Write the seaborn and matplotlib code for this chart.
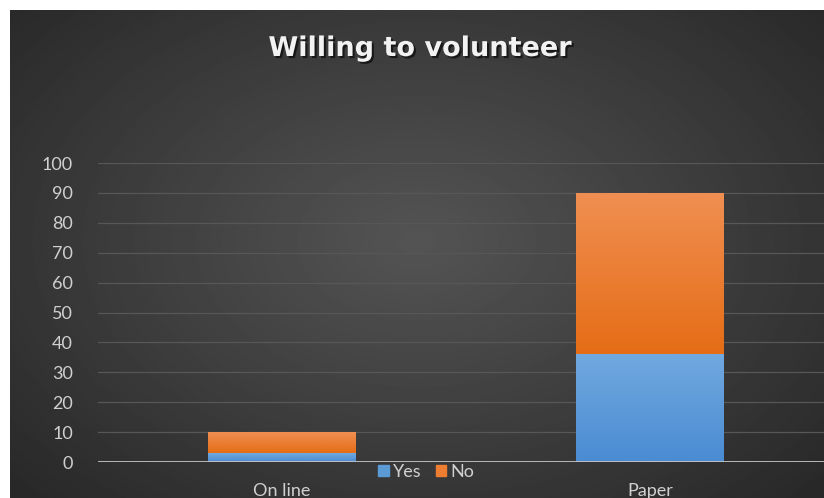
import numpy as np
import pandas as pd
import matplotlib
matplotlib.use('Agg')
import matplotlib.pyplot as plt
import matplotlib.patheffects as pe
from matplotlib.patches import Patch
import seaborn as sns

categories = ['On line', 'Paper']
yes_vals = [3, 36]
no_vals = [7, 54]
y_ticks = list(range(0, 101, 10))

sns.set_theme(style='dark')
plt.rcParams['font.family'] = ['Lato', 'DejaVu Sans']

df = pd.DataFrame({'cat': categories, 'Yes': yes_vals, 'No': no_vals})
df['total'] = df['Yes'] + df['No']

fig = plt.figure(figsize=(8.24, 4.98), dpi=100)
fig.patch.set_facecolor('white')

# dark radial background like the office chart style
bg = fig.add_axes([10 / 824, 0, 814 / 824, 488 / 498])
yy, xx = np.mgrid[-1:1:300j, -1:1:500j]
r = np.sqrt((xx / 1.0) ** 2 + ((yy + 0.05) / 1.1) ** 2)
shade = 0.33 - 0.17 * np.clip(r / 1.35, 0, 1)
bg.imshow(shade, cmap='gray', vmin=0, vmax=1, aspect='auto', extent=(0, 1, 0, 1))
bg.axis('off')

ax = fig.add_axes([98 / 824, (498 - 462) / 498, (824 - 98) / 824, (462 - 163) / 498])
ax.set_facecolor('none')

sns.barplot(data=df, x='cat', y='total', color='#ed7d31', width=0.4,
            saturation=1, ax=ax, zorder=3)
sns.barplot(data=df, x='cat', y='Yes', color='#5b9bd5', width=0.4,
            saturation=1, ax=ax, zorder=3)

# gradient fill on the bars
n = len(categories)
grads = []
for i, p in enumerate(ax.patches[:n]):
    grads.append((p, df['Yes'][i], df['total'][i], '#f08f52', '#e56d16'))
for i, p in enumerate(ax.patches[n:2 * n]):
    grads.append((p, 0, df['Yes'][i], '#71a9e0', '#4a8bd2'))
for p, y0, y1, ctop, cbot in grads:
    x0, w = p.get_x(), p.get_width()
    cm = matplotlib.colors.LinearSegmentedColormap.from_list('g', [cbot, ctop])
    im = ax.imshow(np.linspace(0, 1, 100).reshape(-1, 1), cmap=cm, aspect='auto',
                   origin='lower', extent=(x0, x0 + w, y0, y1), zorder=4)
    im.set_clip_path(p)
    p.set_facecolor('none')
    p.set_edgecolor('none')

ax.set_xlim(-0.5, -0.5 + 726 / 368)
ax.set_ylim(0, 100)
ax.set_yticks(y_ticks)
ax.yaxis.grid(True, color='#575757', lw=0.9)
ax.xaxis.grid(False)
ax.axhline(0, color='#c4c4c4', lw=2, zorder=5)
for s in ax.spines.values():
    s.set_visible(False)
ax.set_xlabel('')
ax.set_ylabel('')
ax.tick_params(axis='y', length=0, pad=18, labelsize=13, labelcolor='#d0d0d0')
ax.tick_params(axis='x', length=0, pad=15, labelsize=13, labelcolor='#d0d0d0')

handles = [Patch(color='#5b9bd5', label='Yes'), Patch(color='#ed7d31', label='No')]
fig.legend(handles=handles, loc='center', bbox_to_anchor=(426 / 824, 1 - 472 / 498),
           ncol=2, frameon=False, fontsize=13, labelcolor='#d0d0d0',
           handlelength=0.6, handleheight=0.6, handletextpad=0.2, columnspacing=0.8)

fig.text(420 / 824, 1 - 56 / 498, 'Willing to volunteer', ha='center', va='baseline',
         fontsize=19.5, fontweight='bold', color='#f2f2f2', family=['DejaVu Sans'],
         path_effects=[pe.withSimplePatchShadow(offset=(1.5, -1.5), shadow_rgbFace='black', alpha=0.6)])

fig.savefig('out.png', dpi=100)
